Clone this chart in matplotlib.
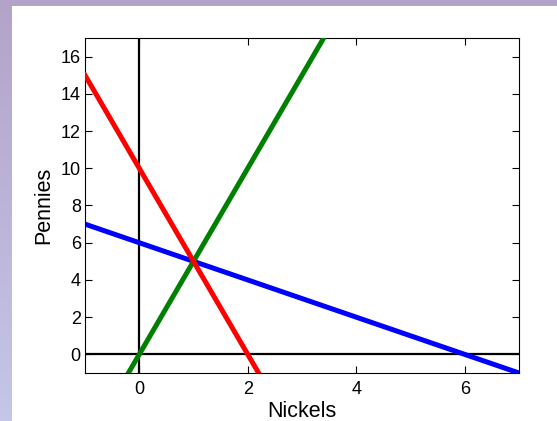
import numpy as np
import matplotlib.pyplot as plt

plt.rcParams['font.family'] = ['Liberation Sans', 'DejaVu Sans']

# nickels on x, pennies on y: three linear constraints
x_range = [-1, 7]
blue_slope, blue_icpt = -1, 6     # n + p = 6
green_slope, green_icpt = 5, 0    # p = 5n
red_slope, red_icpt = -5, 10      # 5n + p = 10

xticks = [0, 2, 4, 6]
yticks = [0, 2, 4, 6, 8, 10, 12, 14, 16]

W, H = 557, 421
fig = plt.figure(figsize=(W / 100, H / 100), dpi=100, facecolor='white')

# purple frame strips (top band, left gradient)
top = fig.add_axes([0, 1 - 6 / H, 1, 6 / H])
top.set_axis_off()
top.add_patch(plt.Rectangle((0, 0), 1, 1, color='#b3a3c9', transform=top.transAxes))
left = fig.add_axes([0, 0, 12 / W, 1])
left.set_axis_off()
grad = np.linspace(0, 1, 256)[:, None]
c0 = np.array([0xb3, 0xa3, 0xc9]) / 255
c1 = np.array([0xc5, 0xc6, 0xe8]) / 255
img = c0[None, None, :] * (1 - grad[:, :, None]) + c1[None, None, :] * grad[:, :, None]
left.imshow(img, aspect='auto', extent=[0, 1, 1, 0])

ax = fig.add_axes([85 / W, 1 - 373 / H, (519 - 85) / W, (373 - 38) / H])

xs = np.array(x_range, dtype=float)
ax.axhline(0, color='black', lw=1.6, zorder=1)
ax.axvline(0, color='black', lw=1.6, zorder=1)
ax.plot(xs, blue_slope * xs + blue_icpt, color='#0000ff', lw=3.6, zorder=2)
ax.plot(xs, green_slope * xs + green_icpt, color='#008000', lw=3.6, zorder=3)
ax.plot(xs, red_slope * xs + red_icpt, color='#ff0000', lw=3.6, zorder=4)

ax.set_xlim(-1, 7)
ax.set_ylim(-1, 17)
ax.set_xticks(xticks)
ax.set_yticks(yticks)
ax.tick_params(direction='in', top=True, right=True, length=5, width=0.8,
               labelsize=13)
ax.tick_params(axis='x', pad=6)
ax.tick_params(axis='y', pad=3)
for s in ax.spines.values():
    s.set_linewidth(0.8)
ax.set_xlabel('Nickels', fontsize=15.5, labelpad=2)
ax.set_ylabel('Pennies', fontsize=15.5, labelpad=5)

fig.savefig('out.png', dpi=100)
